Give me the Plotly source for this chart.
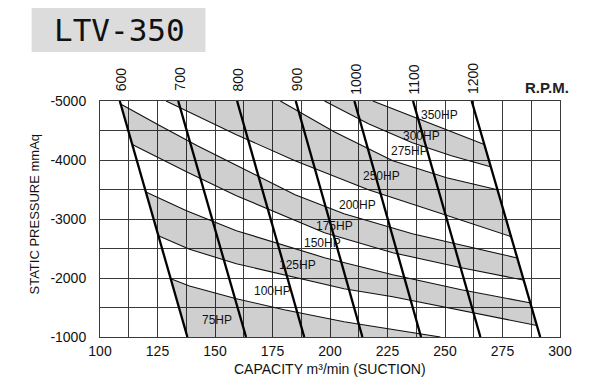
import plotly.graph_objects as go

# ---------------- data ----------------
P_TOP, P_BOT = -5000, -1000
Q_MIN, Q_MAX = 100, 300

x_tick_vals = [100, 125, 150, 175, 200, 225, 250, 275, 300]
y_tick_vals = [-5000, -4000, -3000, -2000, -1000]
y_tick_text = [str(v) for v in y_tick_vals]

rpm_values = [600, 700, 800, 900, 1000, 1100, 1200]
rpm_q_top = [108.6, 134.0, 159.6, 185.1, 210.6, 236.1, 261.6]      # capacity at -5000 mmAq
rpm_q_bottom = [138.0, 163.5, 188.8, 214.1, 239.6, 265.4, 291.4]   # capacity at -1000 mmAq

# HP boundary curves (capacity, static pressure)
b300_350_q = [218.6, 231.6, 244.3, 267.3]
b300_350_p = [-5000, -4802, -4615, -4259]
b275_300_q = [197.6, 216.7, 235.8, 252.8, 269.8]
b275_300_p = [-5000, -4614, -4293, -4073, -3886]
b250_275_q = [178.4, 201.8, 227.3, 250.7, 274.5]
b250_275_p = [-5000, -4480, -3988, -3700, -3480]
b200_250_q = [128.7, 142.3, 159.3, 184.8, 216.7, 248.6, 278.8]
b200_250_p = [-5000, -4751, -4429, -3988, -3497, -3090, -2700]
b175_200_q = [109.6, 125.3, 142.3, 163.6, 184.8, 206.1, 235.8, 280.9]
b175_200_p = [-4937, -4598, -4242, -3819, -3412, -3090, -2751, -2344]
b150_175_q = [115.1, 137.6, 159.3, 180.6, 197.6, 227.3, 257.1, 283.4]
b150_175_p = [-4242, -3802, -3395, -3039, -2768, -2429, -2174, -1971]
b125_150_q = [121.5, 137.6, 159.3, 185.7, 197.6, 227.3, 257.1, 286.8]
b125_150_p = [-3429, -3141, -2802, -2480, -2344, -2056, -1802, -1581]
b100_125_q = [127.4, 138.9, 159.3, 185.7, 206.1, 227.3, 257.1, 288.1]
b100_125_p = [-2683, -2488, -2242, -2005, -1818, -1683, -1445, -1208]
b75_100_q = [132.9, 138.9, 159.3, 180.1, 206.1, 248.0]
b75_100_p = [-1954, -1864, -1649, -1462, -1259, -1000]

hp_labels = ["350HP", "300HP", "275HP", "250HP", "200HP", "175HP", "150HP", "125HP", "100HP", "75HP"]
hp_label_q = [247.8, 239.7, 234.4, 222.6, 212.1, 202.0, 196.6, 185.7, 174.9, 150.7]
hp_label_p = [-4764, -4407, -4146, -3729, -3230, -2881, -2590, -2225, -1785, -1293]

# ---------------- geometry helpers ----------------
def rpm_q(i, p):
    return rpm_q_top[i] + (rpm_q_bottom[i] - rpm_q_top[i]) * (p - P_TOP) / (P_BOT - P_TOP)

half_planes = [
    lambda q, p: p - P_TOP,
    lambda q, p: P_BOT - p,
    lambda q, p: q - rpm_q(0, p),
    lambda q, p: rpm_q(len(rpm_values) - 1, p) - q,
]

def extend(qs, ps, k=4.0):
    pts = list(zip(qs, ps))
    (q0, p0), (q1, p1) = pts[0], pts[1]
    (qn, pn), (qm, pm) = pts[-1], pts[-2]
    return [(q0 + (q0 - q1) * k, p0 + (p0 - p1) * k)] + pts + [(qn + (qn - qm) * k, pn + (pn - pm) * k)]

def clip_polygon(poly):
    out = poly
    for f in half_planes:
        inp, out = out, []
        if not inp:
            break
        for i in range(len(inp)):
            cur, prev = inp[i], inp[i - 1]
            fc, fp = f(*cur), f(*prev)
            if fc >= 0:
                if fp < 0:
                    t = fp / (fp - fc)
                    out.append((prev[0] + t * (cur[0] - prev[0]), prev[1] + t * (cur[1] - prev[1])))
                out.append(cur)
            elif fp >= 0:
                t = fp / (fp - fc)
                out.append((prev[0] + t * (cur[0] - prev[0]), prev[1] + t * (cur[1] - prev[1])))
    return out

def clip_polyline(pts):
    xs, ys, last = [], [], None
    for a, b in zip(pts[:-1], pts[1:]):
        t0, t1, ok = 0.0, 1.0, True
        for f in half_planes:
            fa, fb = f(*a), f(*b)
            if fa < 0 and fb < 0:
                ok = False
                break
            if fa < 0:
                t0 = max(t0, fa / (fa - fb))
            elif fb < 0:
                t1 = min(t1, fa / (fa - fb))
        if not ok or t0 > t1:
            continue
        s = (a[0] + t0 * (b[0] - a[0]), a[1] + t0 * (b[1] - a[1]))
        e = (a[0] + t1 * (b[0] - a[0]), a[1] + t1 * (b[1] - a[1]))
        if last is None or abs(last[0] - s[0]) > 1e-6 or abs(last[1] - s[1]) > 1e-6:
            if last is not None:
                xs.append(None); ys.append(None)
            xs.append(s[0]); ys.append(s[1])
        xs.append(e[0]); ys.append(e[1])
        last = e
    return xs, ys

curves = [
    (b300_350_q, b300_350_p), (b275_300_q, b275_300_p), (b250_275_q, b250_275_p),
    (b200_250_q, b200_250_p), (b175_200_q, b175_200_p), (b150_175_q, b150_175_p),
    (b125_150_q, b125_150_p), (b100_125_q, b100_125_p), (b75_100_q, b75_100_p),
]
bottom_edge = ([Q_MIN, Q_MAX], [P_BOT, P_BOT])
gray_bands = [
    (curves[0], curves[1]),
    (curves[2], curves[3]),
    (curves[4], curves[5]),
    (curves[6], curves[7]),
    (curves[8], bottom_edge),
]

fig = go.Figure()

FILL = "rgba(0,0,0,0.19)"
for up, lo in gray_bands:
    upper = extend(*up)
    lower = extend(*lo) if lo is not bottom_edge else list(zip(*lo))
    poly = clip_polygon(upper + lower[::-1])
    if poly:
        fig.add_trace(go.Scatter(
            x=[p[0] for p in poly] + [poly[0][0]], y=[p[1] for p in poly] + [poly[0][1]],
            mode="lines", fill="toself", fillcolor=FILL, line=dict(width=0),
            hoverinfo="skip", showlegend=False))

for qs, ps in curves:
    xs, ys = clip_polyline(extend(qs, ps))
    fig.add_trace(go.Scatter(x=xs, y=ys, mode="lines",
                             line=dict(color="#111111", width=1.1),
                             hoverinfo="skip", showlegend=False))

for i, r in enumerate(rpm_values):
    fig.add_trace(go.Scatter(x=[rpm_q_top[i], rpm_q_bottom[i]], y=[P_TOP, P_BOT],
                             mode="lines", line=dict(color="#000000", width=2.3),
                             hoverinfo="skip", showlegend=False))
    fig.add_annotation(x=rpm_q_top[i] + 0.6, xref="x", y=1.093, yref="paper",
                       text=str(r), textangle=-90, showarrow=False,
                       xanchor="center", yanchor="middle",
                       font=dict(size=14, color="#111111"))

for t, q, p in zip(hp_labels, hp_label_q, hp_label_p):
    fig.add_annotation(x=q, y=p, text=t, showarrow=False, xanchor="center", yanchor="middle",
                       font=dict(size=12, color="#111111"))

GRID = "#3a3a3a"
fig.update_xaxes(range=[Q_MIN, Q_MAX], tickvals=x_tick_vals, ticks="",
                 showgrid=True, gridcolor=GRID, gridwidth=1,
                 minor=dict(dtick=12.5, tick0=100, showgrid=True, gridcolor=GRID, gridwidth=1),
                 showline=True, mirror=True, linecolor=GRID, linewidth=1,
                 zeroline=False, tickfont=dict(size=14, color="#111111"),
                 ticklabelstandoff=1)
fig.update_yaxes(range=[P_BOT, P_TOP], tickvals=y_tick_vals, ticktext=y_tick_text, ticks="",
                 showgrid=True, gridcolor=GRID, gridwidth=1,
                 minor=dict(dtick=500, tick0=-5000, showgrid=True, gridcolor=GRID, gridwidth=1),
                 showline=True, mirror=True, linecolor=GRID, linewidth=1,
                 zeroline=False, tickfont=dict(size=14, color="#111111"),
                 ticklabelstandoff=10)

# title box
fig.add_shape(type="rect", xref="paper", yref="paper", x0=-0.1486, x1=0.2293, y0=1.2076, y1=1.394,
              fillcolor="#dcdcdc", line=dict(width=0), layer="below")
fig.add_annotation(xref="paper", yref="paper", x=0.0425, y=1.30, text="LTV-350", showarrow=False,
                   xanchor="center", yanchor="middle",
                   font=dict(family="DejaVu Sans Mono", size=31, color="#111111"))
fig.add_annotation(xref="paper", yref="paper", x=0.972, y=1.059, text="<b>R.P.M.</b>", showarrow=False,
                   xanchor="center", yanchor="middle", font=dict(size=15, color="#222222"))
fig.add_annotation(xref="paper", yref="paper", x=0.5, y=-0.136, text="CAPACITY m³/min (SUCTION)",
                   showarrow=False, xanchor="center", yanchor="middle",
                   font=dict(size=14, color="#111111"))
fig.add_annotation(xref="paper", yref="paper", x=-0.143, y=0.52, text="STATIC PRESSURE mmAq",
                   textangle=-90, showarrow=False, xanchor="center", yanchor="middle",
                   font=dict(size=13, color="#111111"))

# the page body adds an 8px margin, so the figure is sized and offset to compensate
fig.update_layout(width=576, height=370, margin=dict(l=92, r=13, t=93, b=41),
                  paper_bgcolor="white", plot_bgcolor="white", showlegend=False,
                  font=dict(family="Liberation Sans, Arial, sans-serif", color="#111111"))

fig.write_html("out.html")
